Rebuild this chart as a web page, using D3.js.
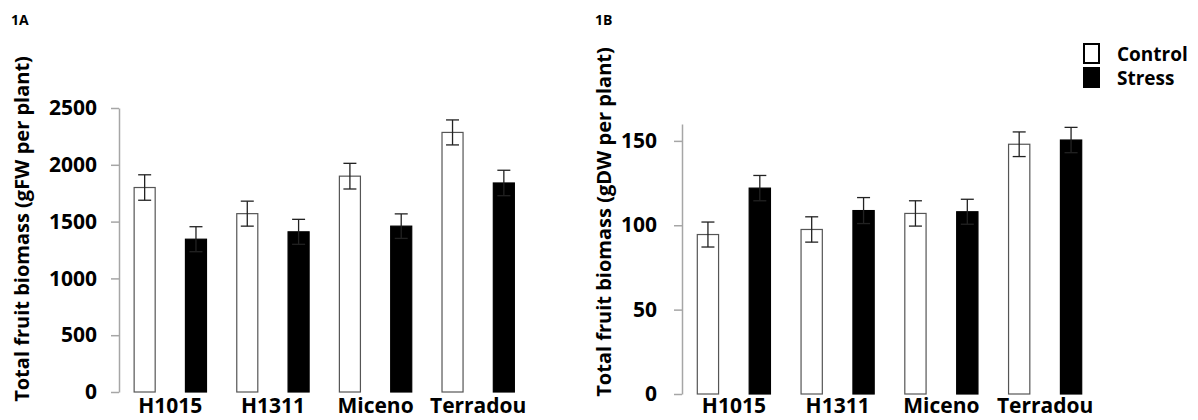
<!DOCTYPE html>
<html>
<head>
<meta charset="utf-8">
<script src="https://cdn.jsdelivr.net/npm/d3@7"></script>
<style>
  html, body { margin: 0; padding: 0; background: #fff; }
  svg { display: block; font-family: "Open Sans", "Noto Sans", sans-serif; font-weight: 700; }
</style>
</head>
<body>
<div id="chart"></div>
<script>
// ---- Data ----
const categories = ["H1015", "H1311", "Miceno", "Terradou"];
const series = ["Control", "Stress"];

// 1A: fresh weight (gFW per plant)
const freshControl    = [1800, 1570, 1900, 2285];
const freshControlErr = [112, 110, 113, 110];
const freshStress     = [1345, 1410, 1460, 1840];
const freshStressErr  = [110, 110, 108, 112];
const freshTicks      = [0, 500, 1000, 1500, 2000, 2500];

// 1B: dry weight (gDW per plant)
const dryControl    = [94.5, 97.5, 107, 148];
const dryControlErr = [7.4, 7.5, 7.5, 7.3];
const dryStress     = [122, 108.7, 108, 150.5];
const dryStressErr  = [7.5, 7.7, 7.4, 7.5];
const dryTicks      = [0, 50, 100, 150];

const width = 1198, height = 420;
const svg = d3.select("#chart").append("svg")
  .attr("width", width)
  .attr("height", height)
  .attr("viewBox", [0, 0, width, height]);

const fill = { Control: "#fff", Stress: "#000" };
const stroke = { Control: "#555", Stress: "#000" };

function rows(ctrl, ctrlErr, str, strErr) {
  return categories.map((c, i) => ({
    cat: c,
    bars: [
      { key: "Control", value: ctrl[i], err: ctrlErr[i] },
      { key: "Stress", value: str[i], err: strErr[i] }
    ]
  }));
}

function panel({ label, labelX, title, titleX, titleY, x0Range, yDomain, yRange, ticks, tickPad, data }) {
  const g = svg.append("g");

  const y = d3.scaleLinear(yDomain, yRange);
  const x0 = d3.scaleBand(categories, x0Range);
  const x1 = d3.scaleBand(series, [0, x0.bandwidth()])
    .paddingInner(0.59)
    .paddingOuter(0.295);

  // panel tag
  g.append("text")
    .attr("x", labelX)
    .attr("y", 25)
    .attr("font-size", 14)
    .text(label);

  // y axis
  const axis = g.append("g")
    .attr("transform", `translate(${x0Range[0]},0)`)
    .call(d3.axisLeft(y)
      .tickValues(ticks)
      .tickFormat(d3.format("d"))
      .tickSize(8)
      .tickSizeOuter(0)
      .tickPadding(tickPad));
  axis.select(".domain").attr("stroke", "#a6a6a6").attr("stroke-width", 1.5);
  axis.selectAll(".tick line").attr("stroke", "#a6a6a6").attr("stroke-width", 1.5);
  axis.selectAll(".tick text")
    .attr("fill", "#000")
    .attr("font-size", 21)
    .attr("font-family", "'Open Sans', sans-serif")
    .attr("font-weight", 700);

  // y title
  g.append("text")
    .attr("transform", `translate(${titleX},${titleY}) rotate(-90)`)
    .attr("text-anchor", "middle")
    .attr("font-size", 20)
    .text(title);

  // bars
  const groups = g.selectAll("g.grp")
    .data(data)
    .join("g")
    .attr("class", "grp")
    .attr("transform", d => `translate(${x0(d.cat)},0)`);

  groups.selectAll("rect")
    .data(d => d.bars)
    .join("rect")
    .attr("x", d => x1(d.key))
    .attr("y", d => y(d.value))
    .attr("width", x1.bandwidth())
    .attr("height", d => y(0) - y(d.value))
    .attr("fill", d => fill[d.key])
    .attr("stroke", d => stroke[d.key])
    .attr("stroke-width", 1.2);

  // error bars
  const cap = 6.5;
  const eb = groups.selectAll("g.err")
    .data(d => d.bars)
    .join("g")
    .attr("class", "err")
    .attr("stroke", "#222")
    .attr("stroke-width", 1.3)
    .attr("transform", d => `translate(${x1(d.key) + x1.bandwidth() / 2},0)`);
  eb.append("line")
    .attr("y1", d => y(d.value + d.err))
    .attr("y2", d => y(d.value - d.err));
  eb.append("line")
    .attr("x1", -cap).attr("x2", cap)
    .attr("y1", d => y(d.value + d.err))
    .attr("y2", d => y(d.value + d.err));
  eb.append("line")
    .attr("x1", -cap).attr("x2", cap)
    .attr("y1", d => y(d.value - d.err))
    .attr("y2", d => y(d.value - d.err));

  // category labels
  g.selectAll("text.cat")
    .data(categories)
    .join("text")
    .attr("class", "cat")
    .attr("x", d => x0(d) + x0.bandwidth() / 2)
    .attr("y", 413)
    .attr("text-anchor", "middle")
    .attr("font-size", 21)
    .text(d => d);
}

panel({
  label: "1A", labelX: 11,
  title: "Total fruit biomass (gFW per plant)", titleX: 29, titleY: 229,
  x0Range: [119, 529.5],
  yDomain: [0, 2500], yRange: [392, 108],
  ticks: freshTicks, tickPad: 14,
  data: rows(freshControl, freshControlErr, freshStress, freshStressErr)
});

panel({
  label: "1B", labelX: 595,
  title: "Total fruit biomass (gDW per plant)", titleX: 611, titleY: 222,
  x0Range: [682, 1097],
  yDomain: [0, 160], yRange: [394, 124],
  ticks: dryTicks, tickPad: 17,
  data: rows(dryControl, dryControlErr, dryStress, dryStressErr)
});

// legend
const legend = svg.append("g").attr("transform", "translate(1083,43)");
const li = legend.selectAll("g")
  .data(series)
  .join("g")
  .attr("transform", (d, i) => `translate(0,${i * 24})`);
li.append("rect")
  .attr("x", 1).attr("y", 1)
  .attr("width", 15).attr("height", 19)
  .attr("fill", d => fill[d])
  .attr("stroke", "#000")
  .attr("stroke-width", 2);
li.append("text")
  .attr("x", 34)
  .attr("y", 18)
  .attr("font-size", 19)
  .text(d => d);
</script>
</body>
</html>
